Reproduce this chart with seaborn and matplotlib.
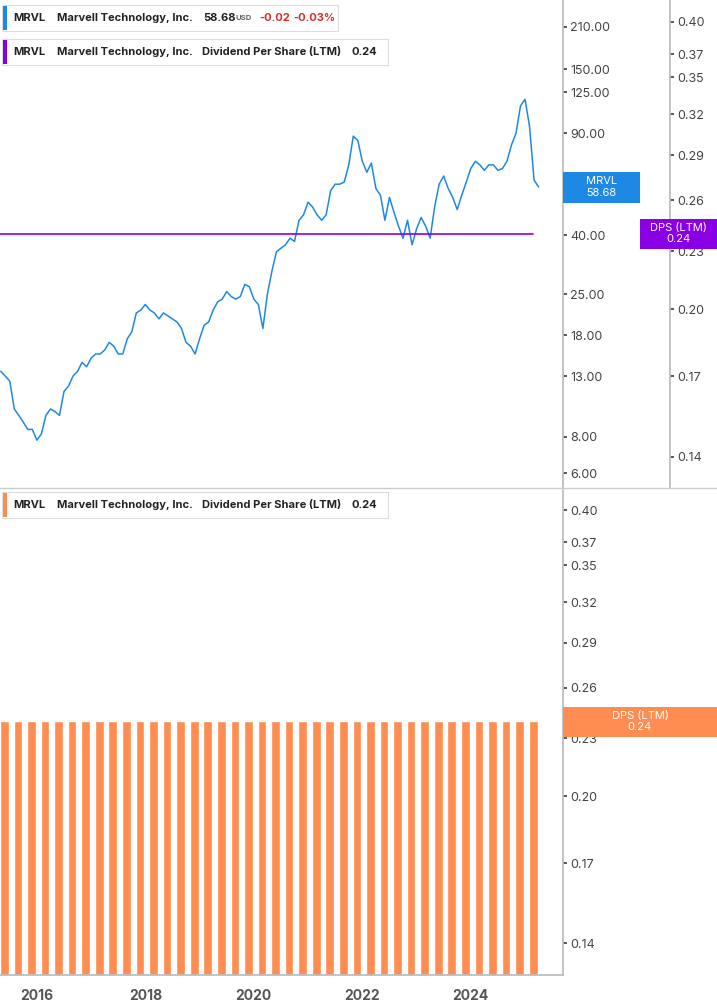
import numpy as np
import pandas as pd
import matplotlib
matplotlib.use("Agg")
import matplotlib.pyplot as plt
import seaborn as sns

sns.set_theme(style="white")
plt.rcParams["font.family"] = "Inter"

price_monthly = [
    13.5, 13, 12.5, 10, 9.5, 9, 8.5, 8.5,
    7.8, 8.2, 9.5, 10, 9.8, 9.5, 11.5, 12, 13, 13.5, 14.5, 14,
    15, 15.5, 15.5, 16, 17, 16.5, 15.5, 15.5, 17.5, 18.5, 21.5, 22,
    23, 22, 21.5, 20.5, 21.5, 21, 20.5, 20, 19, 17, 16.5, 15.5,
    17.5, 19.5, 20, 22, 23.5, 24, 25.5, 24.5, 24, 24.5, 27, 26.5,
    24, 23, 19, 25, 30, 35, 36, 37, 39, 38, 45, 47,
    52, 50, 47, 45, 47, 57, 60, 60, 61, 70, 88, 85,
    72, 66, 71, 58, 55, 45, 54, 48, 43, 39, 45, 37,
    42, 46, 43, 39, 50, 60, 64, 58, 54, 49, 55, 61,
    68, 72, 70, 67, 70, 70, 67, 68, 72, 82, 90, 112,
    118, 95, 62, 58.68,
]
price_start = 2015 + 4 / 12
dps_value = 0.24
dps_start, dps_end = 2015.32, 2025.15
bar_start, n_bars = 2015.40, 40
price_ticks = [6, 8, 13, 18, 25, 40, 90, 125, 150, 210]
dps_ticks = [0.14, 0.17, 0.20, 0.23, 0.26, 0.29, 0.32, 0.35, 0.37, 0.40]
year_ticks = [2016, 2018, 2020, 2022, 2024]

W, H = 717, 1005
fig = plt.figure(figsize=(W / 100, H / 100), dpi=100)
xl = (2015.32, 2025.70)
axw = 563 / W

def fr(y0, y1):
    return (1 - y1 / H, (y1 - y0) / H)

b, h = fr(0, 487)
ax = fig.add_axes([0, b, axw, h])
ax2 = ax.twinx()
df = pd.DataFrame({"x": price_start + np.arange(len(price_monthly)) / 12, "p": price_monthly})
sns.lineplot(data=df, x="x", y="p", ax=ax, color="#1E88E5", lw=1.1)
ax.set_yscale("log"); ax.set_ylim(5.37, 260.4); ax.set_xlim(*xl)
ax.set_yticks(price_ticks); ax.set_yticklabels([f"{t:.2f}" for t in price_ticks])
ax.yaxis.set_minor_locator(matplotlib.ticker.NullLocator())
ax.yaxis.set_ticks_position("right"); ax.yaxis.set_label_position("right")
ax.tick_params(axis="y", labelsize=9, colors="#444", length=3, pad=2,
               left=False, labelleft=False, right=True, labelright=True)
ax.set_xticks([]); ax.set_xlabel(""); ax.set_ylabel("")
for s in ["top", "left", "bottom"]:
    ax.spines[s].set_visible(False)
ax.spines["right"].set_color("#bbb")

sns.lineplot(x=[dps_start, dps_end], y=[dps_value, dps_value], ax=ax2, color="#8A00E5", lw=1.2)
ax2.set_yscale("log"); ax2.set_ylim(0.1302, 0.4218); ax2.set_xlim(*xl)
ax2.spines["right"].set_position(("outward", 77))
ax2.set_yticks(dps_ticks); ax2.set_yticklabels([f"{t:.2f}" for t in dps_ticks])
ax2.yaxis.set_minor_locator(matplotlib.ticker.NullLocator())
ax2.tick_params(axis="y", labelsize=9, colors="#444", length=3, pad=2)
for s in ["top", "left", "bottom"]:
    ax2.spines[s].set_visible(False)
ax2.spines["right"].set_color("#bbb")
ax2.set_ylabel("")

b, h = fr(490, 975)
ax3 = fig.add_axes([0, b, axw, h])
ymin = 0.1296
bx = bar_start + np.arange(n_bars) * 0.25
ax3.bar(bx, [dps_value - ymin] * n_bars, bottom=ymin, width=0.16, color="#FF8C50")
ax3.set_yscale("log"); ax3.set_ylim(ymin, 0.42); ax3.set_xlim(*xl)
ax3.yaxis.tick_right()
ax3.set_yticks(dps_ticks); ax3.set_yticklabels([f"{t:.2f}" for t in dps_ticks])
ax3.yaxis.set_minor_locator(matplotlib.ticker.NullLocator())
ax3.tick_params(axis="y", labelsize=9, colors="#444", length=3, pad=2)
ax3.set_xticks(year_ticks); ax3.set_xticklabels([str(y) for y in year_ticks])
ax3.tick_params(axis="x", labelsize=10, colors="#555", length=0, pad=10)
for t in ax3.get_xticklabels():
    t.set_fontweight("bold")
for s in ["top", "left"]:
    ax3.spines[s].set_visible(False)
ax3.spines["right"].set_color("#bbb"); ax3.spines["bottom"].set_color("#bbb")

fig.add_artist(plt.Line2D([0, 1], [1 - 488 / H] * 2, color="#ccc", lw=1))

def legend(y, color, parts, x1):
    fig.patches.append(matplotlib.patches.Rectangle((2 / W, 1 - (y + 13) / H), (x1 - 2) / W, 26 / H,
        transform=fig.transFigure, facecolor="white", edgecolor="#ddd", lw=0.8))
    fig.patches.append(matplotlib.patches.Rectangle((3 / W, 1 - (y + 12) / H), 4 / W, 24 / H,
        transform=fig.transFigure, facecolor=color, edgecolor="none"))
    for x, txt, c, sz in parts:
        fig.text(x / W, 1 - y / H, txt, color=c, fontsize=sz, fontweight="bold", va="center")

fs = 8
legend(18, "#1E88E5", [(13, "MRVL", "#222", fs), (57, "Marvell Technology, Inc.", "#222", fs),
                        (203, "58.68", "#222", fs), (235, "USD", "#666", 5.5),
                        (259, "-0.02", "#D32F2F", fs), (293, "-0.03%", "#D32F2F", fs)], 338)
legend(52, "#8A00E5", [(13, "MRVL", "#222", fs), (57, "Marvell Technology, Inc.", "#222", fs),
                        (202, "Dividend Per Share (LTM)", "#222", fs), (351, "0.24", "#222", fs)], 388)
legend(505, "#FF8C50", [(13, "MRVL", "#222", fs), (57, "Marvell Technology, Inc.", "#222", fs),
                         (202, "Dividend Per Share (LTM)", "#222", fs), (351, "0.24", "#222", fs)], 388)

def tag(x0, x1, y0, y1, color, l1, l2):
    fig.patches.append(matplotlib.patches.Rectangle((x0 / W, 1 - y1 / H), (x1 - x0) / W, (y1 - y0) / H,
        transform=fig.transFigure, facecolor=color, edgecolor="none"))
    xc = (x0 + x1) / 2 / W
    fig.text(xc, 1 - (y0 + (y1 - y0) * 0.3) / H, l1, color="white", fontsize=8, ha="center", va="center")
    fig.text(xc, 1 - (y0 + (y1 - y0) * 0.68) / H, l2, color="white", fontsize=8, ha="center", va="center")

tag(563, 640, 172, 203, "#1E88E5", "MRVL", "58.68")
tag(640, 717, 219, 249, "#8A00E5", "DPS (LTM)", "0.24")
tag(563, 717, 707, 737, "#FF8C50", "DPS (LTM)", "0.24")

fig.savefig("out.png", dpi=100)
